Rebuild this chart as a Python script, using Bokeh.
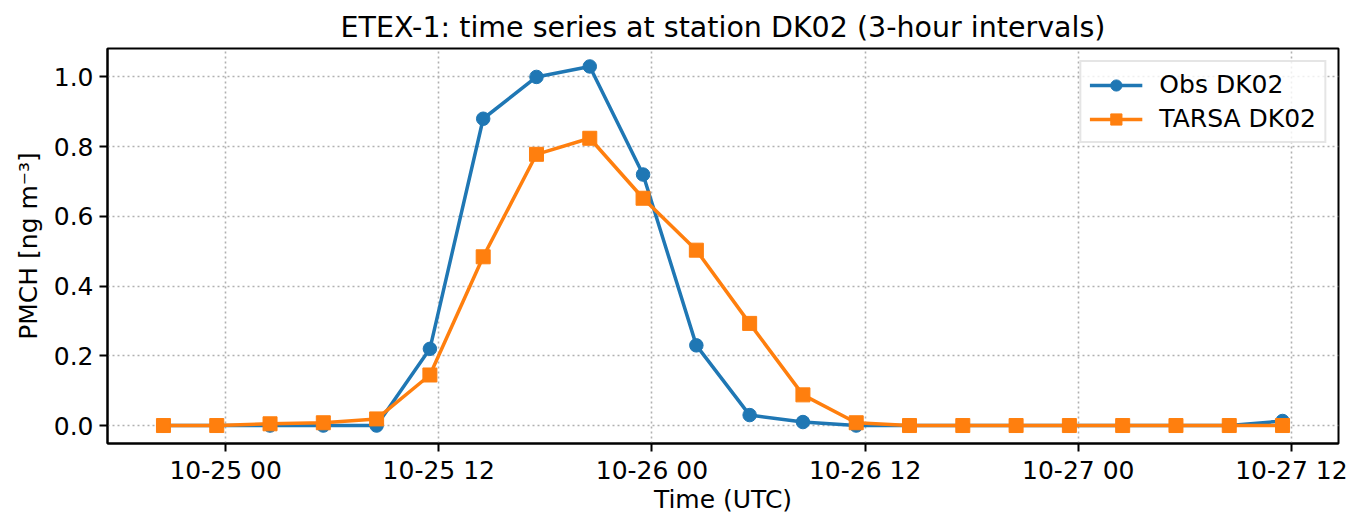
import pandas as pd
from bokeh.plotting import figure
from bokeh.models import (Range1d, FixedTicker, DatetimeTickFormatter,
                          NumeralTickFormatter, Legend, LegendItem)
from bokeh.embed import file_html
from bokeh.resources import INLINE

# ---- data ----
times = ["1994-10-24 20:30", "1994-10-24 23:30", "1994-10-25 02:30", "1994-10-25 05:30",
         "1994-10-25 08:30", "1994-10-25 11:30", "1994-10-25 14:30", "1994-10-25 17:30",
         "1994-10-25 20:30", "1994-10-25 23:30", "1994-10-26 02:30", "1994-10-26 05:30",
         "1994-10-26 08:30", "1994-10-26 11:30", "1994-10-26 14:30", "1994-10-26 17:30",
         "1994-10-26 20:30", "1994-10-26 23:30", "1994-10-27 02:30", "1994-10-27 05:30",
         "1994-10-27 08:30", "1994-10-27 11:30"]
obs_dk02 = [0.0, 0.0, 0.0, 0.0, 0.0, 0.22, 0.88, 1.0, 1.03, 0.72, 0.23, 0.03,
            0.01, 0.0, 0.0, 0.0, 0.0, 0.0, 0.0, 0.0, 0.0, 0.013]
tarsa_dk02 = [0.0, 0.0, 0.005, 0.008, 0.019, 0.145, 0.484, 0.778, 0.824, 0.652, 0.503, 0.293,
              0.088, 0.008, 0.0, 0.0, 0.0, 0.0, 0.0, 0.0, 0.0, 0.0]
x_ticks = ["1994-10-25 00:00", "1994-10-25 12:00", "1994-10-26 00:00",
           "1994-10-26 12:00", "1994-10-27 00:00", "1994-10-27 12:00"]
y_ticks = [0.0, 0.2, 0.4, 0.6, 0.8, 1.0]

t = pd.to_datetime(times)
t_ms = [ts.value / 1e6 for ts in t]
tick_ms = [pd.Timestamp(s).value / 1e6 for s in x_ticks]

span = t_ms[-1] - t_ms[0]
ymax = max(max(obs_dk02), max(tarsa_dk02))
ymin = 0.0
yspan = ymax - ymin

FONT = "DejaVu Sans"
TICK_FS = "25px"
LABEL_FS = "25px"

p = figure(width=1362, height=531, x_axis_type="datetime",
           output_backend="svg", toolbar_location=None,
           x_range=Range1d(t_ms[0] - 0.05 * span, t_ms[-1] + 0.05 * span),
           y_range=Range1d(ymin - 0.05 * yspan, ymax + 0.05 * yspan),
           min_border_left=107, min_border_right=24,
           min_border_top=48, min_border_bottom=88,
           title="ETEX-1: time series at station DK02 (3-hour intervals)")

p.title.text_font = FONT
p.title.text_font_size = "28.5px"
p.title.text_font_style = "normal"
p.title.align = "center"
p.title.text_color = "black"
p.title.standoff = 10

p.outline_line_color = "black"
p.outline_line_width = 2
p.background_fill_color = "white"
p.border_fill_color = "white"

for g in (p.xgrid, p.ygrid):
    g.grid_line_color = "#b0b0b0"
    g.grid_line_width = 1.6
    g.grid_line_dash = "2 3"

for ax in (p.xaxis, p.yaxis):
    ax.axis_line_color = "black"
    ax.axis_line_width = 2
    ax.major_tick_line_color = "black"
    ax.major_tick_line_width = 2
    ax.major_tick_out = 8
    ax.major_tick_in = 0
    ax.minor_tick_line_color = None
    ax.major_label_text_font = FONT
    ax.major_label_text_font_size = TICK_FS
    ax.major_label_text_color = "black"
    ax.axis_label_text_font = FONT
    ax.axis_label_text_font_size = LABEL_FS
    ax.axis_label_text_font_style = "normal"
    ax.axis_label_text_color = "black"

p.xaxis.ticker = FixedTicker(ticks=tick_ms)
p.xaxis.formatter = DatetimeTickFormatter(hours="%m-%d %H", days="%m-%d %H",
                                          hourmin="%m-%d %H", months="%m-%d %H")
p.xaxis.axis_label = "Time (UTC)"
p.xaxis.major_label_standoff = 4
p.xaxis.axis_label_standoff = -3

p.yaxis.ticker = FixedTicker(ticks=y_ticks)
p.yaxis.formatter = NumeralTickFormatter(format="0.0")
p.yaxis.axis_label = "PMCH [ng m\u207b\u00b3]"
p.yaxis.major_label_standoff = 6
p.yaxis.axis_label_standoff = 8

l1 = p.line(t_ms, obs_dk02, line_color="#1f77b4", line_width=3.5)
s1 = p.scatter(t_ms, obs_dk02, marker="circle", size=13.5,
               fill_color="#1f77b4", line_color="#1f77b4")
l2 = p.line(t_ms, tarsa_dk02, line_color="#ff7f0e", line_width=3.5)
s2 = p.scatter(t_ms, tarsa_dk02, marker="square", size=14,
               fill_color="#ff7f0e", line_color="#ff7f0e")

legend = Legend(items=[LegendItem(label="Obs DK02", renderers=[l1, s1]),
                       LegendItem(label="TARSA DK02", renderers=[l2, s2])],
                location="top_right", margin=12, padding=8, spacing=5,
                glyph_width=53, glyph_height=28, label_standoff=17,
                label_text_font=FONT, label_text_font_size=LABEL_FS,
                label_text_color="black",
                border_line_color="#cccccc", border_line_width=2,
                background_fill_color="white", background_fill_alpha=0.8)
p.add_layout(legend)

open("out.html", "w").write(file_html(p, INLINE))
